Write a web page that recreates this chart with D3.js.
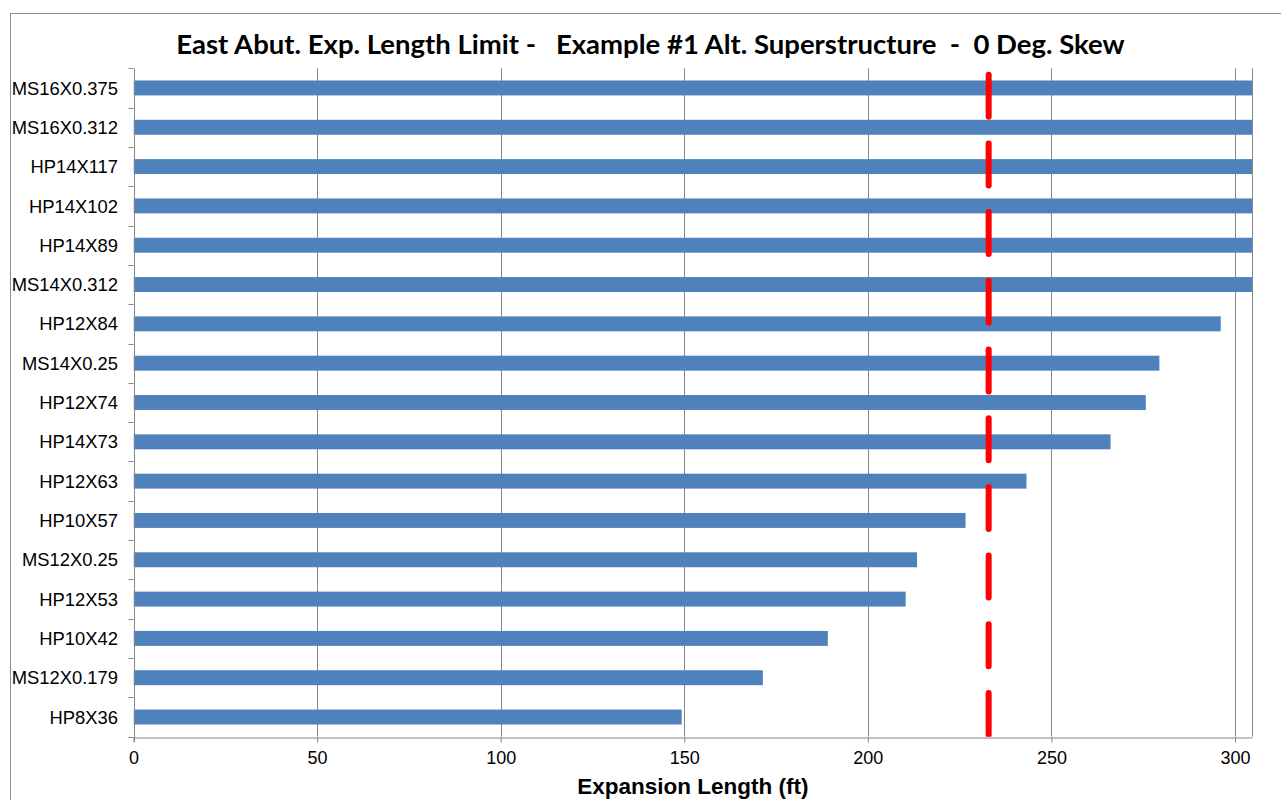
<!DOCTYPE html>
<html>
<head>
<meta charset="utf-8">
<script src="https://cdn.jsdelivr.net/npm/d3@7"></script>
<style>
  body { margin: 0; background: #fff; }
  svg { display: block; }
  text { white-space: pre; }
</style>
</head>
<body>
<svg id="chart" width="1281" height="800"></svg>
<script>
// Pile sections, listed top to bottom
const sections = [
  "MS16X0.375", "MS16X0.312", "HP14X117", "HP14X102", "HP14X89", "MS14X0.312",
  "HP12X84", "MS14X0.25", "HP12X74", "HP14X73", "HP12X63", "HP10X57",
  "MS12X0.25", "HP12X53", "HP10X42", "MS12X0.179", "HP8X36"
];
// Allowable expansion length (ft) per section; the first six run past the axis end
const expansionLengths = [
  305, 305, 305, 305, 305, 305,
  296.1, 279.4, 275.7, 266.1, 243.2, 226.6,
  213.4, 210.3, 189.1, 171.4, 149.3
];
const xTicks = [0, 50, 100, 150, 200, 250, 300];
const expansionLimit = 232.9;   // required expansion length (ft)
const axisMax = 304.7;

const titleText = "East Abut. Exp. Length Limit -   Example #1 Alt. Superstructure  -  0 Deg. Skew";
const xTitleText = "Expansion Length (ft)";

const svg = d3.select("#chart");
const plot = { left: 133.5, right: 1252.3, top: 68.3, bottom: 736.7 };
const gridColor = "#868686";
const labelFont = "'Liberation Sans', Arial, sans-serif";

// chart area frame (runs past the right and bottom of the view)
svg.append("rect")
  .attr("x", 10.5).attr("y", 13.5)
  .attr("width", 1300).attr("height", 820)
  .attr("fill", "#fff").attr("stroke", "#8c8c8c").attr("stroke-width", 1);

const x = d3.scaleLinear().domain([0, axisMax]).range([plot.left, plot.right]);
const y = d3.scaleBand().domain(sections).range([plot.top, plot.bottom])
  .paddingInner(0.62).paddingOuter(0.31);

svg.append("defs").append("clipPath").attr("id", "plotClip")
  .append("rect")
  .attr("x", plot.left).attr("y", plot.top)
  .attr("width", plot.right - plot.left).attr("height", plot.bottom - plot.top);

// vertical gridlines
svg.append("g")
  .selectAll("line")
  .data(xTicks.filter(d => d > 0))
  .join("line")
  .attr("x1", d => Math.round(x(d)) + 0.5).attr("x2", d => Math.round(x(d)) + 0.5)
  .attr("y1", plot.top).attr("y2", plot.bottom)
  .attr("stroke", gridColor).attr("stroke-width", 1);

// right edge of the plot area
svg.append("line")
  .attr("x1", Math.round(plot.right) + 0.5).attr("x2", Math.round(plot.right) + 0.5)
  .attr("y1", plot.top).attr("y2", plot.bottom)
  .attr("stroke", gridColor).attr("stroke-width", 1);

// bars
svg.append("g").attr("clip-path", "url(#plotClip)")
  .selectAll("rect")
  .data(sections)
  .join("rect")
  .attr("x", x(0))
  .attr("y", d => y(d))
  .attr("width", (d, i) => x(Math.min(expansionLengths[i], axisMax)) - x(0))
  .attr("height", y.bandwidth())
  .attr("fill", "#4F81BD");

// expansion limit line
svg.append("g").attr("clip-path", "url(#plotClip)")
  .append("line")
  .attr("x1", x(expansionLimit)).attr("x2", x(expansionLimit))
  .attr("y1", plot.top + 6.4).attr("y2", plot.bottom + 10)
  .attr("stroke", "#FF0000").attr("stroke-width", 6)
  .attr("stroke-linecap", "round")
  .attr("stroke-dasharray", "42,26.7");

// x axis
const xAxis = d3.axisBottom(x).tickValues(xTicks).tickSize(5).tickPadding(9)
  .tickFormat(d3.format("d"));
const gx = svg.append("g")
  .attr("transform", `translate(0,${Math.round(plot.bottom) + 0.5})`)
  .call(xAxis);
gx.select(".domain").attr("stroke", gridColor).attr("d", `M${plot.left},0.5H${plot.right}`);
gx.selectAll(".tick line").attr("stroke", gridColor);
gx.selectAll(".tick text")
  .attr("fill", "#000")
  .style("font-family", labelFont)
  .style("font-size", "18px");

// y axis: line plus ticks at category boundaries
const boundaries = d3.range(sections.length + 1).map(i => plot.top + i * y.step());
const gy = svg.append("g");
gy.append("line")
  .attr("x1", Math.round(plot.left) + 0.5).attr("x2", Math.round(plot.left) + 0.5)
  .attr("y1", plot.top).attr("y2", plot.bottom + 5)
  .attr("stroke", gridColor);
gy.selectAll("line.tick")
  .data(boundaries)
  .join("line")
  .attr("class", "tick")
  .attr("x1", plot.left - 5).attr("x2", plot.left)
  .attr("y1", d => Math.round(d) + 0.5).attr("y2", d => Math.round(d) + 0.5)
  .attr("stroke", gridColor);
gy.selectAll("text")
  .data(sections)
  .join("text")
  .attr("x", 118)
  .attr("y", d => y(d) + y.bandwidth() / 2)
  .attr("dy", "0.36em")
  .attr("text-anchor", "end")
  .style("font-family", labelFont)
  .style("font-size", "18.4px")
  .text(d => d);

// title
svg.append("text")
  .attr("x", 650.5).attr("y", 54)
  .attr("text-anchor", "middle")
  .style("font-family", "Lato, 'Open Sans', sans-serif")
  .style("font-weight", "bold")
  .style("font-size", "27.5px")
  .text(titleText);

// x axis title
svg.append("text")
  .attr("x", (plot.left + plot.right) / 2).attr("y", 794)
  .attr("text-anchor", "middle")
  .style("font-family", labelFont)
  .style("font-weight", "bold")
  .style("font-size", "22.5px")
  .text(xTitleText);
</script>
</body>
</html>
